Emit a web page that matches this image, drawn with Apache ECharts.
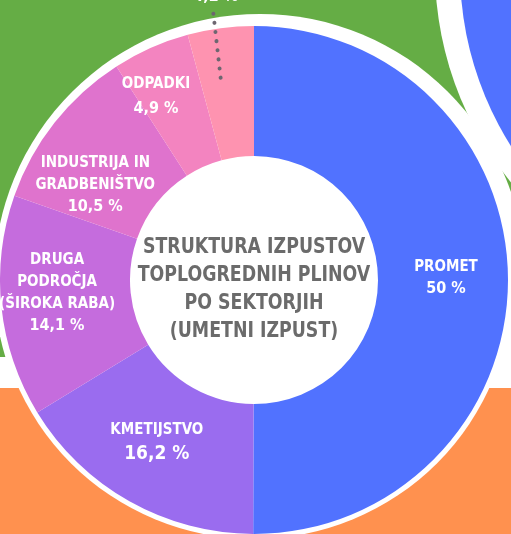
<!DOCTYPE html>
<html><head><meta charset="utf-8">
<script src="https://cdn.jsdelivr.net/npm/echarts@6/dist/echarts.min.js"></script>
<style>html,body{margin:0;padding:0;background:#fff;}#c{width:511px;height:534px;}</style>
</head><body><div id="c"></div>
<script>
var categories = ['PROMET', 'KMETIJSTVO', 'DRUGA\nPODROČJA\n(ŠIROKA RABA)', 'INDUSTRIJA IN\nGRADBENIŠTVO', 'ODPADKI', 'ENERGETIKA'];
var values = [50, 16.2, 14.1, 10.5, 4.9, 4.2];
var colors = ['#5172ff', '#9a6cef', '#c56cdd', '#df73cd', '#f384c0', '#fe93b0'];
var titleLines = ['STRUKTURA IZPUSTOV', 'TOPLOGREDNIH PLINOV', 'PO SEKTORJIH', '(UMETNI IZPUST)'];

var FONT = "'DejaVu Sans Condensed','Liberation Sans Narrow','Roboto',sans-serif";
var CX = 254, CY = 280, R0 = 124, R1 = 254;
var offsets = [[0, -2], [-3, -4], [-6, -7], [-8, 24], [-20, -7], [-13, -93]];
var valSize = [16, 19, 16, 16, 16, 16];
var valGap = [6, 7, 6, 6, 10, 6];
var DEG = Math.PI / 180;

function fmt(v) { return String(v).replace('.', ',') + ' %'; }

var total = values.reduce(function (a, b) { return a + b; }, 0);
var cum = 0;
for (var i = 0; i < values.length - 1; i++) cum += values[i];
var lastMid = (cum + values[values.length - 1] / 2) / total * 2 * Math.PI;
function pt(r, tilt) { var a = lastMid + tilt * DEG; return [CX + r * Math.sin(a), CY - r * Math.cos(a)]; }

var data = categories.map(function (c, i) {
  var isLast = i === values.length - 1;
  return {
    name: c, value: values[i],
    itemStyle: { color: colors[i] },
    label: {
      offset: offsets[i],
      formatter: function (p) {
        var v = '{v' + i + '|' + fmt(p.value) + '}';
        if (isLast) return v;
        return p.name.split('\n').map(function (s) { return '{n|' + s + '}'; }).join('\n') + '\n' + v;
      }
    }
  };
});
var rich = { n: { fontFamily: FONT, fontWeight: 'bold', fontSize: 15, color: '#fff', lineHeight: 22, align: 'center' } };
valSize.forEach(function (s, i) {
  rich['v' + i] = { fontFamily: FONT, fontWeight: 'bold', fontSize: s, color: '#fff', lineHeight: s + valGap[i], align: 'center' };
});

var chart = echarts.init(document.getElementById('c'), null, { renderer: 'canvas' });
chart.setOption({
  animation: false,
  graphic: [
    { type: 'rect', z: 0, shape: { x: 0, y: 0, width: 511, height: 357 }, style: { fill: '#65ad45' } },
    { type: 'circle', z: 0, shape: { cx: 260, cy: 280, r: 266 }, style: { fill: '#fff' } },
    { type: 'rect', z: 0, shape: { x: 0, y: 388, width: 511, height: 146 }, style: { fill: '#ff914f' } },
    { type: 'circle', z: 1, shape: { cx: CX, cy: CY, r: R1 + 5 }, style: { fill: '#fff' } },
    { type: 'circle', z: 1, shape: { cx: 770, cy: -30, r: 335 }, style: { fill: '#fff' } },
    { type: 'circle', z: 1, shape: { cx: 790, cy: -30, r: 330 }, style: { fill: '#5172ff' } },
    { type: 'circle', z: 1, shape: { cx: CX, cy: CY, r: R0 + 1 }, style: { fill: '#fff' } },
    { type: 'polyline', z: 5, shape: { points: [pt(205, -1.8), pt(270, -1.1)] },
      style: { stroke: '#6d6670', lineWidth: 4, lineCap: 'round', lineDash: [0.1, 9.1], fill: null } },
    { type: 'text', z: 5, x: CX, y: 290, scaleX: 0.92, scaleY: 1,
      style: { text: titleLines.join('\n'), x: 0, y: 0, align: 'center', verticalAlign: 'middle',
        fontFamily: FONT, fontWeight: 'bold', fontSize: 21, lineHeight: 28, fill: '#6b6b6b' } }
  ],
  series: [{
    type: 'pie', z: 3,
    center: [CX, CY], radius: [R0, R1],
    startAngle: 90, clockwise: true,
    avoidLabelOverlap: false,
    label: { show: true, position: 'inside', rich: rich, color: '#fff' },
    labelLine: { show: false },
    emphasis: { disabled: true },
    itemStyle: { borderWidth: 0 },
    data: data
  }]
});
</script></body></html>
